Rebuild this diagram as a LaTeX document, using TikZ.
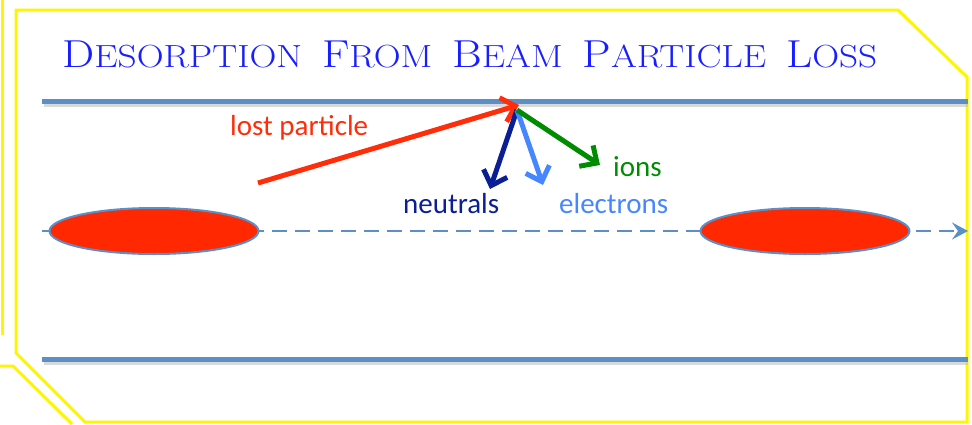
\documentclass[tikz,border=0pt]{standalone}
\usepackage{fontspec}
\setsansfont{Carlito}
\usepackage{xcolor}
\definecolor{tubeblue}{RGB}{91,143,199}
\definecolor{bunchred}{RGB}{255,40,0}
\definecolor{lossred}{RGB}{255,45,10}
\definecolor{neutralblue}{RGB}{10,30,150}
\definecolor{electronblue}{RGB}{70,135,255}
\definecolor{iongreen}{RGB}{0,140,0}
\definecolor{titleblue}{RGB}{25,30,255}
\definecolor{frameyellow}{RGB}{255,245,0}
\usetikzlibrary{arrows.meta,positioning,shapes.geometric}
\newcommand\tcap[2]{{\fontsize{39}{44}\selectfont #1}{\fontsize{32}{44}\selectfont #2}}
\newcommand\tgap{\hspace{17pt}}

\begin{document}
\begin{tikzpicture}[x=1pt,y=-1pt,
  wall/.style={tubeblue,line width=5pt},
  shade/.style={black!25,line width=4pt,opacity=0.6},
  bunch/.style={ellipse,draw=tubeblue,line width=2pt,fill=bunchred,
    minimum width=209pt,minimum height=46pt,inner sep=0pt},
  ray/.style={line width=5pt,-{Straight Barb[length=13pt,width=25pt]}},
  lbl/.style={anchor=base west,font=\sffamily\fontsize{29}{34}\selectfont,inner sep=0pt}]
  \useasboundingbox (0,0) rectangle (972,424);

  % slide frame
  \draw[frameyellow,line width=3pt] (16,10) -- (898,10) -- (967,77) -- (967,422)
    -- (85,422) -- (16,353) -- cycle;
  \draw[frameyellow,line width=3pt] (2,0) -- (2,335);
  \draw[frameyellow,line width=3pt] (0,366) -- (13,366) -- (72,424);

  % title
  \node[anchor=base west,text=titleblue,inner sep=0pt] (title) at (62,67)
    {\resizebox{815pt}{\height}{\tcap{D}{ESORPTION}\tgap\tcap{F}{ROM}\tgap\tcap{B}{EAM}\tgap
     \tcap{P}{ARTICLE}\tgap\tcap{L}{OSS}}};

  % beam pipe walls
  \draw[shade] (44,105) -- (968,105);
  \draw[shade] (44,363) -- (968,363);
  \draw[wall] (42,101) -- (968,101);
  \draw[wall] (42,359) -- (968,359);

  % beam axis and bunches
  \coordinate (axisL) at (42,231);
  \coordinate (axisR) at (968,231);
  \draw[tubeblue,line width=2.5pt,dash pattern=on 15pt off 8pt,
    -{Stealth[length=16pt,width=17pt,inset=6pt]}] (axisL) -- (axisR);
  \node[bunch] (bunchL) at (154,231) {};
  \node[bunch] (bunchR) at (805,231) {};

  % lost particle and products
  \coordinate (hit) at (519,105);
  \coordinate (lostsrc) at (258,183);
  \draw[ray,lossred] (lostsrc) -- (hit);
  \node[lbl,text=lossred] (lostlbl) at (230,135) {lost particle};

  \coordinate (hitB) at (517,110);
  \foreach \nm/\col/\tx/\ty/\lx/\ly in {
    neutrals/neutralblue/490/189/403/213,
    electrons/electronblue/543/185/559/213,
    ions/iongreen/600/165/613/176}{
    \coordinate (\nm) at (\tx,\ty);
    \draw[ray,\col] (hitB) -- (\nm);
    \node[lbl,text=\col] (\nm lbl) at (\lx,\ly) {\nm};
  }
\end{tikzpicture}
\end{document}
